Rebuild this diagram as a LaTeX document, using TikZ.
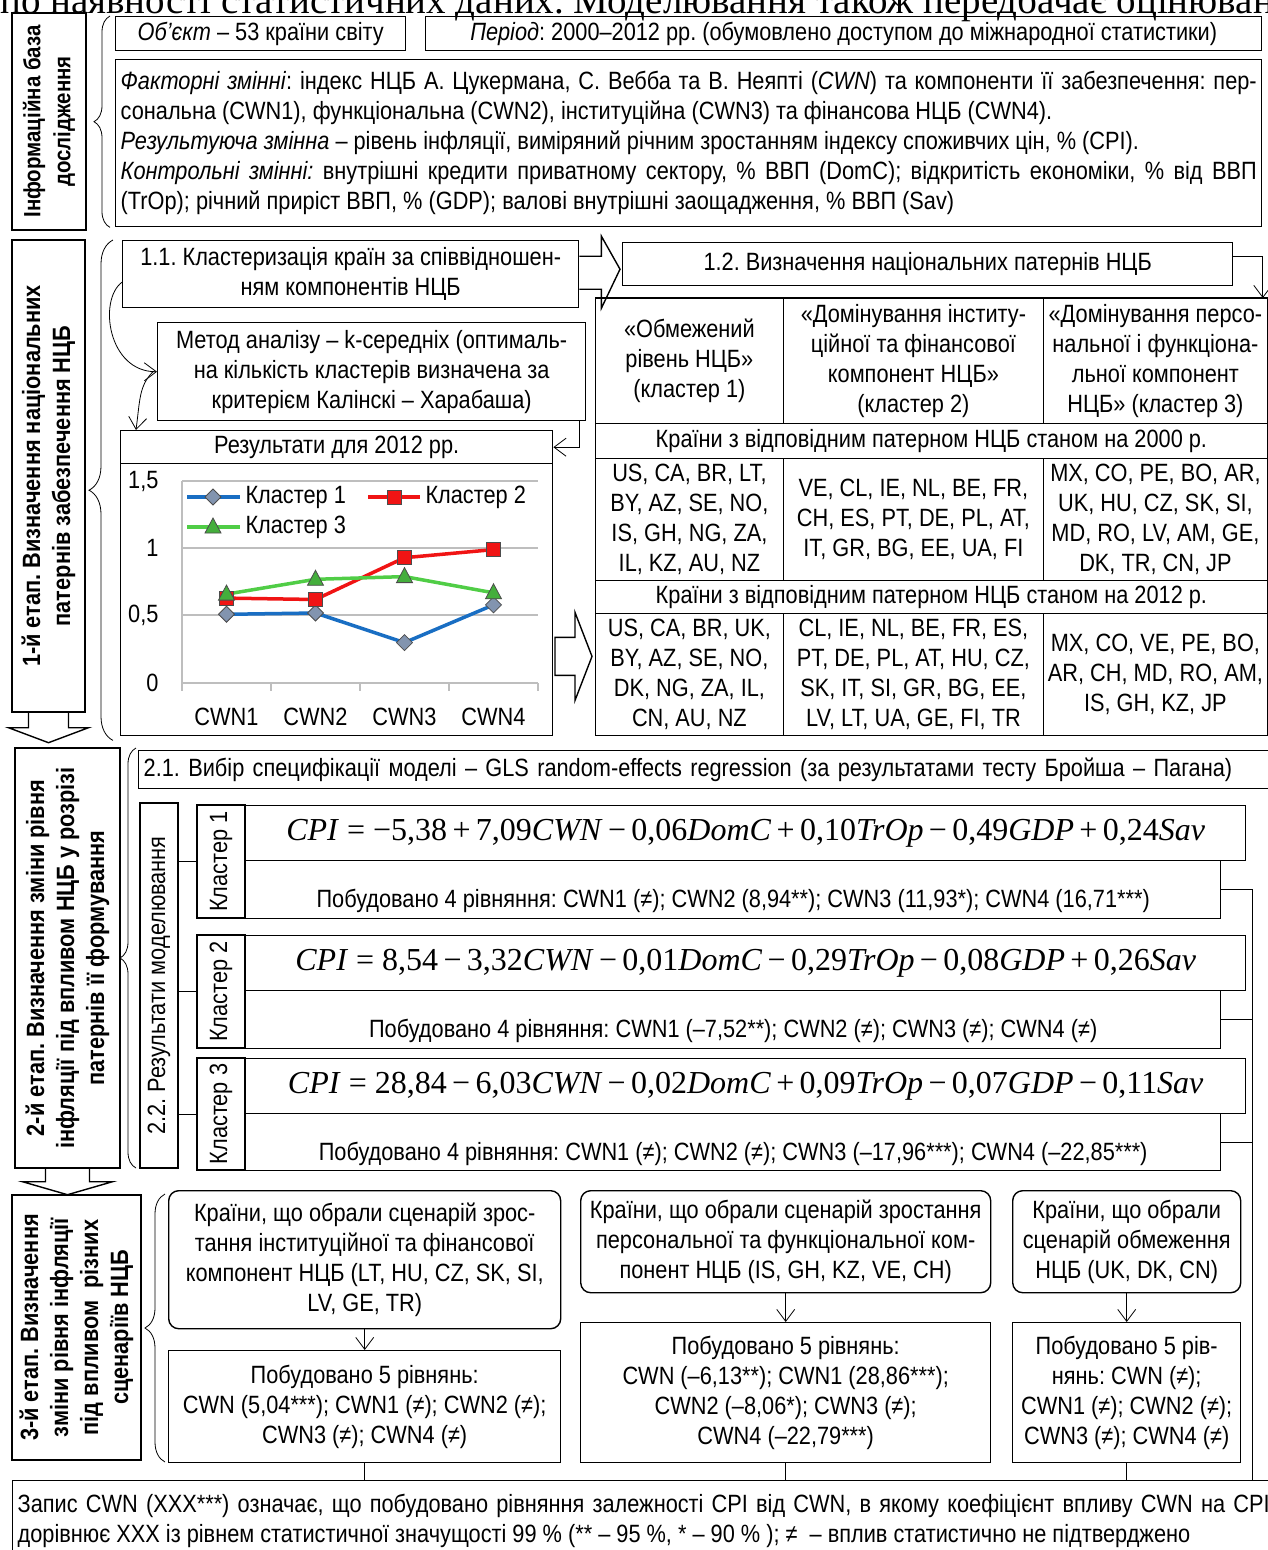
\documentclass[tikz,border=0pt]{standalone}
\usepackage{fontspec}
\setmainfont{Liberation Sans}[FakeStretch=0.87]
\newfontfamily\eqfont{Liberation Serif}
\usetikzlibrary{arrows.meta,calc,decorations.pathreplacing}
\frenchspacing

\definecolor{kblue}{RGB}{25,110,195}
\definecolor{kred}{RGB}{240,20,20}
\definecolor{kgreen}{RGB}{80,205,70}
\definecolor{kgray}{RGB}{130,148,175}
\definecolor{gridgray}{RGB}{190,190,190}

\tikzset{
  box/.style={draw, line width=1.4pt, inner sep=0pt, anchor=north west, align=center},
  rbox/.style={box, rounded corners=10pt},
  resbox/.style={box, text height=36pt, text depth=0pt},
  cell/.style={draw, line width=0.8pt, inner sep=0pt, anchor=north west, align=center},
  stagebox/.style={draw, line width=1.4pt, inner sep=0pt, rotate=90, align=center, font=\bfseries\fontsize{25}{30}\selectfont},
  vbox/.style={draw, line width=1.4pt, inner sep=0pt, rotate=90, align=center},
  eqbox/.style={box, font=\eqfont\fontsize{32}{38}\selectfont},
  arr/.style={line width=0.8pt, -{Straight Barb[length=12pt,width=18pt]}},
  link/.style={line width=0.8pt},
  blockarr/.style={line width=1.4pt, line join=miter},
  brc/.style={line width=0.8pt, decorate, decoration={brace, amplitude=#1}},
  gridln/.style={line width=1.3pt, gridgray},
  k1line/.style={line width=3.5pt, kblue},
  k2line/.style={line width=3.5pt, kred},
  k3line/.style={line width=3.5pt, kgreen},
  dmark/.pic={\draw[fill=kgray, draw=black!70, line width=0.8pt] (-8,0) -- (0,-8) -- (8,0) -- (0,8) -- cycle;},
  smark/.pic={\draw[fill=kred, draw=black!70, line width=0.8pt] (-7,-7) rectangle (7,7);},
  tmark/.pic={\draw[fill=kgreen!85!black, draw=black!70, line width=0.8pt] (-8,6) -- (0,-9) -- (8,6) -- cycle;},
}

\newcommand\ops[1]{\,#1\,}

\begin{document}
\begin{tikzpicture}[x=1pt, y=-1pt, font=\fontsize{25}{30}\selectfont]
  \path[use as bounding box, fill=white] (0,0) rectangle (1267,1550);

  \node[anchor=base west, inner sep=0pt, font=\eqfont\fontsize{39}{44}\selectfont] (pagetext) at (0,13) {по наявності статистичних даних. Моделювання також передбачає оцінювання};

  \node[stagebox, minimum width=217, minimum height=74, font=\bfseries\fontsize{23.5}{30}\selectfont] (info) at (49,121.5) {Інформаційна база\\дослідження};
  \node[box, minimum width=290, minimum height=34] (obj) at (115,16) {\textit{Об’єкт} – 53 країни світу};
  \node[box, minimum width=836, minimum height=34] (period) at (425,16) {\textit{Період}: 2000–2012 рр. (обумовлено доступом до міжнародної статистики)};
  \node[box, minimum width=1146, minimum height=167, text width=1136, inner xsep=5pt, align=justify] (vars) at (115,59) {\textit{Факторні змінні}: індекс НЦБ А. Цукермана, С. Вебба та В. Неяпті (\textit{CWN}) та компоненти її забезпечення: пер-\linebreak сональна (CWN1), функціональна (CWN2), інституційна (CWN3) та фінансова НЦБ (CWN4).\\
    \textit{Результуюча змінна} – рівень інфляції, виміряний річним зростанням індексу споживчих цін, \% (CPI).\\
    \textit{Контрольні змінні:} внутрішні кредити приватному сектору, \% ВВП (DomC); відкритість економіки, \% від ВВП\linebreak (TrOp); річний приріст ВВП, \% (GDP); валові внутрішні заощадження, \% ВВП (Sav)};
  \draw[brc=16] ($(vars.south west)+(-5,0)$) -- ($(obj.north west)+(-5,0)$);

  \node[stagebox, minimum width=472, minimum height=73] (st1) at (48.5,476) {1-й етап. Визначення національних\\патернів забезпечення НЦБ};
  \node[box, minimum width=456, minimum height=67] (n11) at (122,240) {1.1. Кластеризація країн за співвідношен-\\ням компонентів НЦБ};
  \node[box, minimum width=610, minimum height=43] (n12) at (622,242) {1.2. Визначення національних патернів НЦБ};
  \node[box, minimum width=428, minimum height=98] (method) at (157,322) {Метод аналізу – k-середніх (оптималь-\\на кількість кластерів визначена за\\критерієм Калінскі – Харабаша)};
  \node[box, minimum width=432, minimum height=33] (ctitle) at (120,430) {Результати для 2012 рр.};
  \node[box, minimum width=432, minimum height=272] (cplot) at (120,463) {};

  \node[cell, minimum width=188, minimum height=125] (h1) at (595,298) {«Обмежений\\рівень НЦБ»\\(кластер 1)};
  \node[cell, minimum width=260, minimum height=125] (h2) at (783,298) {«Домінування інститу-\\ційної та фінансової\\компонент НЦБ»\\(кластер 2)};
  \node[cell, minimum width=224, minimum height=125] (h3) at (1043,298) {«Домінування персо-\\нальної і функціона-\\льної компонент\\НЦБ» (кластер 3)};
  \node[cell, minimum width=672, minimum height=35] (y00) at (595,423) {Країни з відповідним патерном НЦБ станом на 2000 р.};
  \node[cell, minimum width=188, minimum height=122] (a1) at (595,458) {US, CA, BR, LT,\\BY, AZ, SE, NO,\\IS, GH, NG, ZA,\\IL, KZ, AU, NZ};
  \node[cell, minimum width=260, minimum height=122] (a2) at (783,458) {VE, CL, IE, NL, BE, FR,\\CH, ES, PT, DE, PL, AT,\\IT, GR, BG, EE, UA, FI};
  \node[cell, minimum width=224, minimum height=122] (a3) at (1043,458) {MX, CO, PE, BO, AR,\\UK, HU, CZ, SK, SI,\\MD, RO, LV, AM, GE,\\DK, TR, CN, JP};
  \node[cell, minimum width=672, minimum height=33] (y12) at (595,580) {Країни з відповідним патерном НЦБ станом на 2012 р.};
  \node[cell, minimum width=188, minimum height=122] (b1) at (595,613) {US, CA, BR, UK,\\BY, AZ, SE, NO,\\DK, NG, ZA, IL,\\CN, AU, NZ};
  \node[cell, minimum width=260, minimum height=122] (b2) at (783,613) {CL, IE, NL, BE, FR, ES,\\PT, DE, PL, AT, HU, CZ,\\SK, IT, SI, GR, BG, EE,\\LV, LT, UA, GE, FI, TR};
  \node[cell, minimum width=224, minimum height=122] (b3) at (1043,613) {MX, CO, VE, PE, BO,\\AR, CH, MD, RO, AM,\\IS, GH, KZ, JP};
  \draw[line width=1.4pt] (h1.north west) -- (h3.north east);

  \draw[brc=24] ($(cplot.south west)+(-7,4)$) -- ($(n11.north west)+(-9,0)$);
  \draw[blockarr] ($(n11.east)+(0,-18)$) -- ++(22,0) -- ++(0,-20) -- ($(n12.west)+(-2,5)$) -- ($(n11.east)+(22,34)$) -- ++(0,-19) -- ($(n11.east)+(0,15)$);
  \draw[blockarr] ($(b1.west)+(-40,-37)$) -- ++(20,0) -- ++(0,-25) -- ($(b1.west)+(-3,-18)$) -- ($(b1.west)+(-20,26)$) -- ++(0,-25) -- ($(b1.west)+(-40,1)$) -- cycle;
  \draw[arr] ([yshift=8pt]n12.east) -| ($(h3.north east)+(-5,0)$);
  \draw[arr] ([yshift=-8pt]n11.west) .. controls (98,300) and (108,372) .. (method.west);
  \draw[arr] ([xshift=-4pt]method.west) .. controls +(-14,14) and +(4,-30) .. ([xshift=16pt]ctitle.north west);
  \draw[arr] ($(method.south east)+(-7,0)$) |- (ctitle.east);
  \draw[blockarr] ($(st1.west)+(-20,0)$) -- ++(0,15) -- ++(-20,0) -- ($(st1.west)+(0,30)$) -- ($(st1.west)+(40,15)$) -- ++(-20,0) -- ++(0,-15);

  \draw[gridln] (182,481) -- (538,481);
  \draw[gridln] (182,548) -- (538,548);
  \draw[gridln] (182,615) -- (538,615);
  \draw[gridln] (182,481) -- (182,691);
  \draw[gridln] (182,683) -- (538,683);
  \draw[gridln] (271,683) -- (271,691);
  \draw[gridln] (360,683) -- (360,691);
  \draw[gridln] (449,683) -- (449,691);
  \draw[gridln] (538,683) -- (538,691);
  \node[anchor=east] (v15) at (162,481) {1,5};
  \node[anchor=east] (v10) at (162,548) {1};
  \node[anchor=east] (v05) at (162,615) {0,5};
  \node[anchor=east] (v00) at (162,683) {0};
  \node (c1) at (226.5,717) {CWN1};
  \node (c2) at (315.5,717) {CWN2};
  \node (c3) at (404.5,717) {CWN3};
  \node (c4) at (493.5,717) {CWN4};
  \draw[k1line] (226.5,614.3) -- (315.5,613) -- (404.5,642.6) -- (493.5,604.9);
  \draw[k2line] (226.5,598.1) -- (315.5,599.5) -- (404.5,557.7) -- (493.5,549.6);
  \draw[k3line] (226.5,594.1) -- (315.5,579.3) -- (404.5,576.6) -- (493.5,592.8);
  \pic at (226.5,614.3) {dmark};
  \pic at (315.5,613) {dmark};
  \pic at (404.5,642.6) {dmark};
  \pic at (493.5,604.9) {dmark};
  \pic at (226.5,598.1) {smark};
  \pic at (315.5,599.5) {smark};
  \pic at (404.5,557.7) {smark};
  \pic at (493.5,549.6) {smark};
  \pic at (226.5,594.1) {tmark};
  \pic at (315.5,579.3) {tmark};
  \pic at (404.5,576.6) {tmark};
  \pic at (493.5,592.8) {tmark};
  \draw[k1line] (187,497) -- (240,497);
  \draw[k2line] (368,497) -- (420,497);
  \draw[k3line] (187,527) -- (240,527);
  \pic at (213,497) {dmark};
  \pic at (394,497) {smark};
  \pic at (213,527) {tmark};
  \node[anchor=west] (lg1) at (242,497) {Кластер 1};
  \node[anchor=west] (lg2) at (422,497) {Кластер 2};
  \node[anchor=west] (lg3) at (242,527) {Кластер 3};

  \node[stagebox, minimum width=420, minimum height=105] (st2) at (67.5,958) {2-й етап. Визначення зміни рівня\\інфляції під впливом НЦБ у розрізі\\патернів її формування};
  \draw[blockarr] ($(st2.west)+(-22,0)$) -- ++(0,13) -- ++(-23,0) -- ($(st2.west)+(0,26)$) -- ($(st2.west)+(45,13)$) -- ++(-23,0) -- ++(0,-13);
  \node[box, minimum width=1131, minimum height=38, text width=1121, inner xsep=5pt, align=left] (n21) at (138,750) {2.1. Вибір специфікації моделі – GLS random-effects regression (за результатами тесту Бройша – Пагана)};
  \draw[brc=16] ($(n21.north west)+(-2,418)$) -- ($(n21.north west)+(-2,-2)$);
  \node[vbox, minimum width=365, minimum height=38] (n22) at (159,985.5) {2.2. Результати моделювання};
  \node[vbox, minimum width=113, minimum height=48] (k1) at (221,861.5) {Кластер 1};
  \node[vbox, minimum width=113, minimum height=48] (k2) at (221,991.5) {Кластер 2};
  \node[vbox, minimum width=112, minimum height=48] (k3) at (221,1114) {Кластер 3};
  \draw[link] (k1.north -| n22.south) -- (k1.north);
  \draw[link] (k2.north -| n22.south) -- (k2.north);
  \draw[link] (k3.north -| n22.south) -- (k3.north);
  \node[eqbox, minimum width=1000, minimum height=55] (e1) at (245,805) {\textit{CPI} = −5,38\ops{+}7,09\textit{CWN}\ops{−}0,06\textit{DomC}\ops{+}0,10\textit{TrOp}\ops{−}0,49\textit{GDP}\ops{+}0,24\textit{Sav}};
  \node[resbox, minimum width=975, minimum height=58] (r1) at (245,860) {Побудовано 4 рівняння: CWN1 (≠); CWN2 (8,94**); CWN3 (11,93*); CWN4 (16,71***)};
  \node[eqbox, minimum width=1000, minimum height=55] (e2) at (245,935) {\textit{CPI} = 8,54\ops{−}3,32\textit{CWN}\ops{−}0,01\textit{DomC}\ops{−}0,29\textit{TrOp}\ops{−}0,08\textit{GDP}\ops{+}0,26\textit{Sav}};
  \node[resbox, minimum width=975, minimum height=58] (r2) at (245,990) {Побудовано 4 рівняння: CWN1 (–7,52**); CWN2 (≠); CWN3 (≠); CWN4 (≠)};
  \node[eqbox, minimum width=1000, minimum height=55] (e3) at (245,1058) {\textit{CPI} = 28,84\ops{−}6,03\textit{CWN}\ops{−}0,02\textit{DomC}\ops{+}0,09\textit{TrOp}\ops{−}0,07\textit{GDP}\ops{−}0,11\textit{Sav}};
  \node[resbox, minimum width=975, minimum height=57] (r3) at (245,1113) {Побудовано 4 рівняння: CWN1 (≠); CWN2 (≠); CWN3 (–17,96***); CWN4 (–22,85***)};

  \node[stagebox, minimum width=265, minimum height=129] (st3) at (76.5,1327.5) {3-й етап. Визначення\\зміни рівня інфляції\\під впливом\ \ різних\\сценаріїв НЦБ};
  \node[rbox, minimum width=392, minimum height=138] (sA) at (168,1190) {Країни, що обрали сценарій зрос-\\тання інституційної та фінансової\\компонент НЦБ (LT, HU, CZ, SK, SI,\\LV, GE, TR)};
  \draw[brc=20] ($(sA.north west)+(-3,272)$) -- ($(sA.north west)+(-3,4)$);
  \node[box, minimum width=392, minimum height=112] (sB) at (168,1350) {Побудовано 5 рівнянь:\\CWN (5,04***); CWN1 (≠); CWN2 (≠);\\CWN3 (≠); CWN4 (≠)};
  \node[rbox, minimum width=410, minimum height=102] (sC) at (580,1190) {Країни, що обрали сценарій зростання\\персональної та функціональної ком-\\понент НЦБ (IS, GH, KZ, VE, CH)};
  \node[box, minimum width=410, minimum height=140] (sD) at (580,1322) {Побудовано 5 рівнянь:\\CWN (–6,13**); CWN1 (28,86***);\\CWN2 (–8,06*); CWN3 (≠);\\CWN4 (–22,79***)};
  \node[rbox, minimum width=228, minimum height=102] (sE) at (1012,1190) {Країни, що обрали\\сценарій обмеження\\НЦБ (UK, DK, CN)};
  \node[box, minimum width=228, minimum height=140] (sF) at (1012,1322) {Побудовано 5 рів-\\нянь: CWN (≠);\\CWN1 (≠); CWN2 (≠);\\CWN3 (≠); CWN4 (≠)};
  \draw[arr] (sA.south) -- (sB.north);
  \draw[arr] (sC.south) -- (sD.north);
  \draw[arr] (sE.south) -- (sF.north);

  \node[box, minimum width=1262, minimum height=80, text width=1252, inner xsep=5pt, align=justify] (note) at (12,1480) {Запис CWN (XXX***) означає, що побудовано рівняння залежності CPI від CWN, в якому коефіцієнт впливу CWN на CPI\linebreak дорівнює XXX із рівнем статистичної значущості 99 \% (** – 95 \%, * – 90 \% ); ≠\ \ – вплив статистично не підтверджено};
  \draw[link] (sB.south) -- (sB.south |- note.north);
  \draw[link] (sD.south) -- (sD.south |- note.north);
  \draw[link] (sF.south) -- (sF.south |- note.north);
  \coordinate (vtop) at ($(r1.east)+(31,0)$);
  \draw[link] (r1.east) -- (vtop) -- (vtop |- note.north);
  \draw[link] (r2.east) -- (r2.east -| vtop);
  \draw[link] (r3.east) -- (r3.east -| vtop);
\end{tikzpicture}
\end{document}
